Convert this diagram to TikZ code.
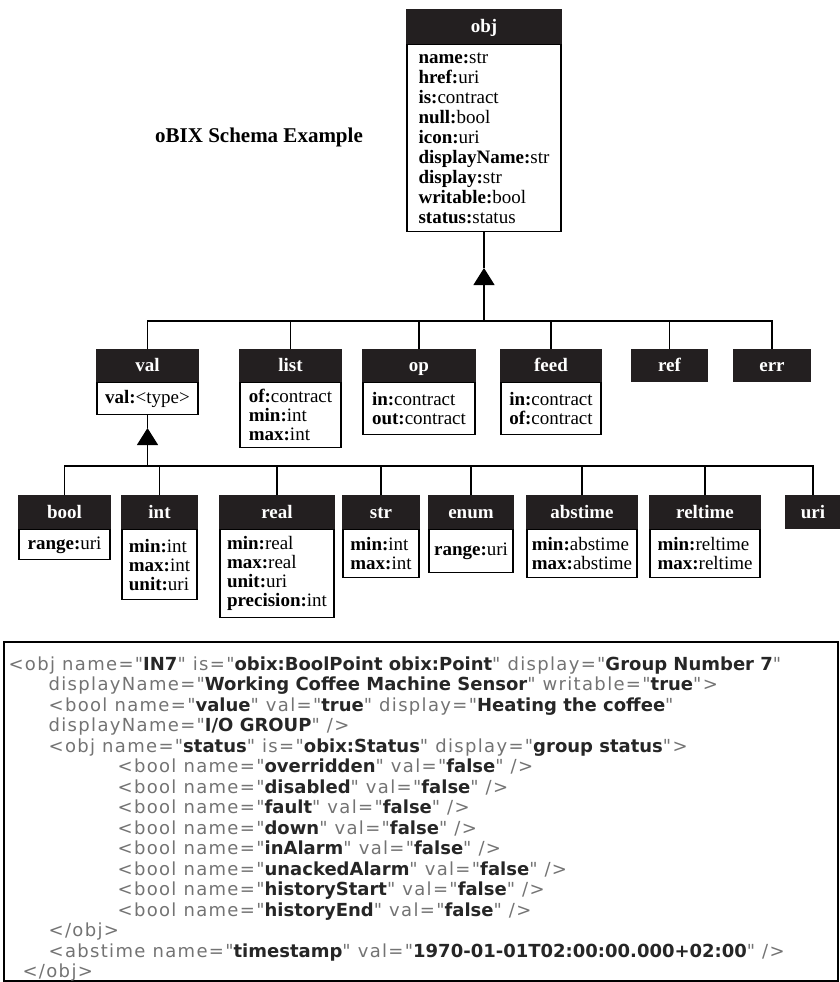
\documentclass[tikz,border=0pt]{standalone}
\usepackage{fontspec}
\setmainfont{Liberation Serif}
\newfontfamily\codefont[LetterSpace=7.4, BoldFeatures={LetterSpace=0}]{DejaVu Sans}
\usetikzlibrary{positioning, arrows.meta}

\definecolor{classbg}{HTML}{231F20}
\definecolor{codegray}{gray}{0.45}
\newcommand{\attn}[1]{\textbf{#1:}}
\newcommand{\attv}[1]{{\bfseries\color{black!85}#1}}

\begin{document}
\begin{tikzpicture}[
    x=0.5pt, y=-0.5pt,
    head/.style={draw=classbg, fill=classbg, text=white, inner sep=0pt,
                 text height=6.6pt, text depth=0.6pt,
                 font=\bfseries\fontsize{9.5}{10}\selectfont, anchor=north},
    attrs/.style={draw, fill=white, align=left, inner sep=2pt,
                  font=\fontsize{9.5}{9.5}\selectfont},
    inherit/.style={-{Triangle[width=10.5pt,length=8.5pt]}},
    line width=0.6pt
  ]
  \useasboundingbox (0,0) rectangle (840,982);

  \node[font=\bfseries\fontsize{10.5}{12}\selectfont] (title) at (259,137) {oBIX Schema Example};

  % Root class
  \node[head, minimum width=77pt, minimum height=17pt] (obj) at (484,9) {obj};
  \node[attrs, minimum width=77pt, minimum height=93.5pt, below=0pt of obj,
        font=\fontsize{9.5}{10}\selectfont] (objattr)
    {\attn{name}str\\ \attn{href}uri\\ \attn{is}contract\\ \attn{null}bool\\
     \attn{icon}uri\\ \attn{displayName}str\\ \attn{display}str\\
     \attn{writable}bool\\ \attn{status}status};

  % First level
  \node[head, minimum width=50.5pt, minimum height=16pt] (val) at (147.5,349) {val};
  \node[attrs, minimum width=50.5pt, minimum height=16pt, below=0pt of val] (valattr)
    {\attn{val}<type>};
  \node[head, minimum width=50.5pt, minimum height=16pt] (list) at (290.5,349) {list};
  \node[attrs, minimum width=50.5pt, minimum height=32.5pt, below=0pt of list] (listattr)
    {\attn{of}contract\\ \attn{min}int\\ \attn{max}int};
  \node[head, minimum width=56pt, minimum height=16pt] (op) at (419,349) {op};
  \node[attrs, minimum width=56pt, minimum height=26pt, below=0pt of op] (opattr)
    {\attn{in}contract\\ \attn{out}contract};
  \node[head, minimum width=50pt, minimum height=16pt] (feed) at (551,349) {feed};
  \node[attrs, minimum width=50pt, minimum height=26pt, below=0pt of feed] (feedattr)
    {\attn{in}contract\\ \attn{of}contract};
  \node[head, minimum width=37.5pt, minimum height=16pt] (ref) at (669.5,349) {ref};
  \node[head, minimum width=38pt, minimum height=16pt] (err) at (772,349) {err};

  % Value types
  \node[head, minimum width=45.5pt, minimum height=16.5pt] (bool) at (64.5,495) {bool};
  \node[attrs, minimum width=45.5pt, minimum height=15pt, below=0pt of bool] (boolattr)
    {\attn{range}uri};
  \node[head, minimum width=37.5pt, minimum height=16.5pt] (int) at (159.5,495) {int};
  \node[attrs, minimum width=37.5pt, minimum height=35pt, below=0pt of int] (intattr)
    {\attn{min}int\\ \attn{max}int\\ \attn{unit}uri};
  \node[head, minimum width=57pt, minimum height=16.5pt] (real) at (277,495) {real};
  \node[attrs, minimum width=57pt, minimum height=44pt, below=0pt of real] (realattr)
    {\attn{min}real\\ \attn{max}real\\ \attn{unit}uri\\ \attn{precision}int};
  \node[head, minimum width=38pt, minimum height=16.5pt] (str) at (381,495) {str};
  \node[attrs, minimum width=38pt, minimum height=24pt, below=0pt of str] (strattr)
    {\attn{min}int\\ \attn{max}int};
  \node[head, minimum width=42pt, minimum height=16.5pt] (enum) at (471,495) {enum};
  \node[attrs, minimum width=42pt, minimum height=21.5pt, below=0pt of enum] (enumattr)
    {\attn{range}uri};
  \node[head, minimum width=55pt, minimum height=16.5pt] (abstime) at (582,495) {abstime};
  \node[attrs, minimum width=55pt, minimum height=24pt, below=0pt of abstime] (abstimeattr)
    {\attn{min}abstime\\ \attn{max}abstime};
  \node[head, minimum width=55pt, minimum height=16.5pt] (reltime) at (705,495) {reltime};
  \node[attrs, minimum width=55pt, minimum height=24pt, below=0pt of reltime] (reltimeattr)
    {\attn{min}reltime\\ \attn{max}reltime};
  \node[head, minimum width=27pt, minimum height=16.5pt] (uri) at (813,495) {uri};

  % Inheritance
  \coordinate (objfork) at (484,321);
  \coordinate (objtip) at (484,268);
  \draw (objattr.south) -- (objtip);
  \draw[inherit] (objfork) -- (objtip);
  \draw (val.north) |- (objfork) -| (err.north);
  \foreach \n in {list, op, feed, ref}
    \draw (\n.north) -- (\n.north |- objfork);

  \coordinate (valfork) at (147.5,466);
  \coordinate (valtip) at (147.5,428);
  \draw (valattr.south) -- (valtip);
  \draw[inherit] (valfork) -- (valtip);
  \draw (bool.north) |- (valfork) -| (uri.north);
  \foreach \n in {int, real, str, enum, abstime, reltime}
    \draw (\n.north) -- (\n.north |- valfork);

  % Example document
  \node[draw, line width=0.8pt, anchor=north west, inner sep=0pt,
        minimum width=417pt, minimum height=169.5pt] (listing) at (3,641) {};
  \node[anchor=north west, align=left, inner sep=0pt, text=codegray,
        font=\codefont\fontsize{9}{10.25}\selectfont] (code) at (8,656)
    {<obj name="\attv{IN7}" is="\attv{obix:BoolPoint obix:Point}" display="\attv{Group Number 7}"\\
     \hspace*{20pt}displayName="\attv{Working Coffee Machine Sensor}" writable="\attv{true}">\\
     \hspace*{20pt}<bool name="\attv{value}" val="\attv{true}" display="\attv{Heating the coffee}"\\
     \hspace*{20pt}displayName="\attv{I/O GROUP}" />\\
     \hspace*{20pt}<obj name="\attv{status}" is="\attv{obix:Status}" display="\attv{group status}">\\
     \hspace*{54.5pt}<bool name="\attv{overridden}" val="\attv{false}" />\\
     \hspace*{54.5pt}<bool name="\attv{disabled}" val="\attv{false}" />\\
     \hspace*{54.5pt}<bool name="\attv{fault}" val="\attv{false}" />\\
     \hspace*{54.5pt}<bool name="\attv{down}" val="\attv{false}" />\\
     \hspace*{54.5pt}<bool name="\attv{inAlarm}" val="\attv{false}" />\\
     \hspace*{54.5pt}<bool name="\attv{unackedAlarm}" val="\attv{false}" />\\
     \hspace*{54.5pt}<bool name="\attv{historyStart}" val="\attv{false}" />\\
     \hspace*{54.5pt}<bool name="\attv{historyEnd}" val="\attv{false}" />\\
     \hspace*{20pt}</obj>\\
     \hspace*{20pt}<abstime name="\attv{timestamp}" val="\attv{1970-01-01T02:00:00.000+02:00}" />\\
     \hspace*{7pt}</obj>};
\end{tikzpicture}
\end{document}
